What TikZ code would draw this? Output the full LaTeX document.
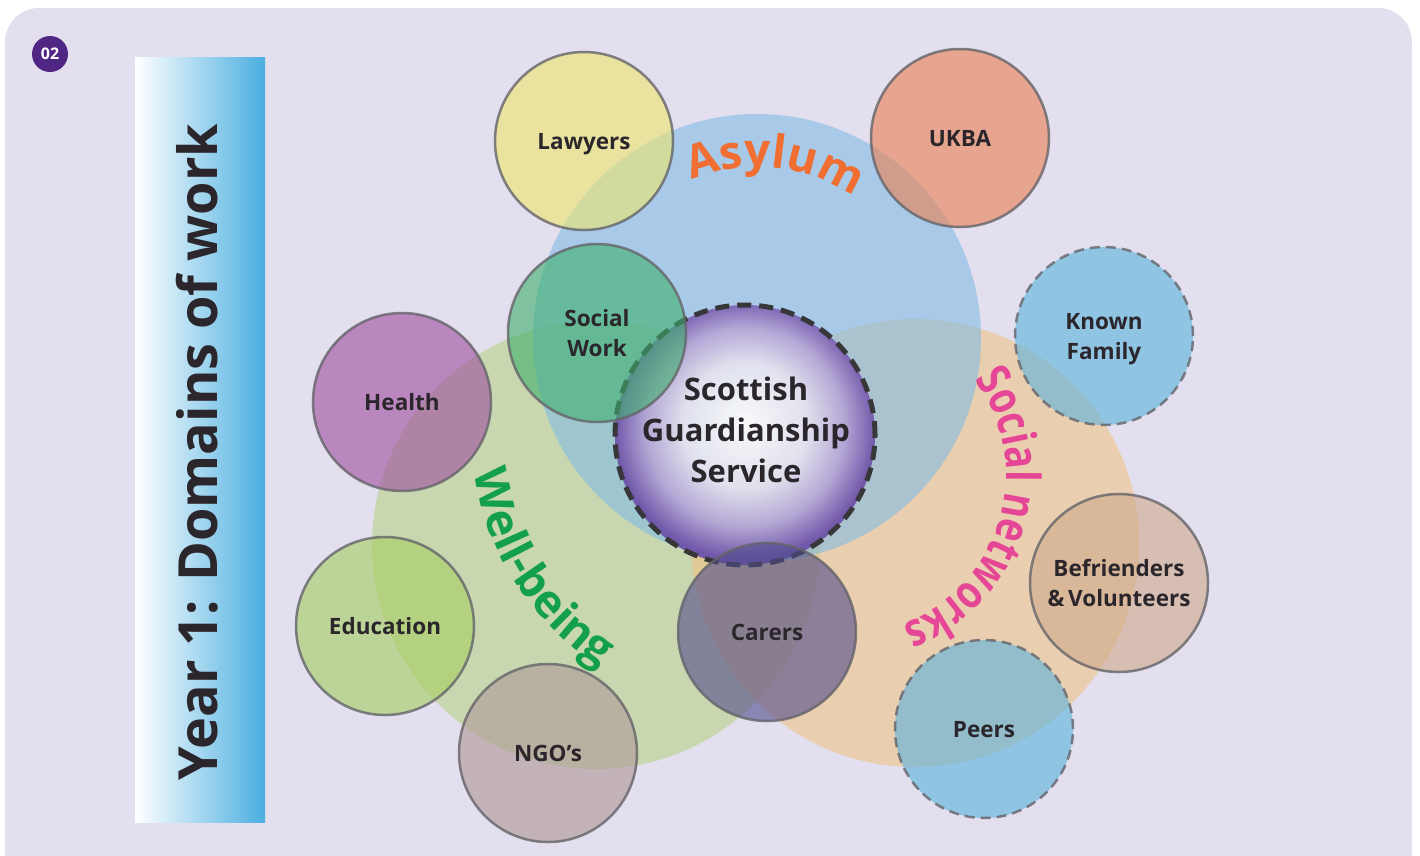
\documentclass[tikz,border=0pt]{standalone}
\usepackage{fontspec}
\setmainfont{Open Sans}
\newfontfamily\narrowsans{Open Sans}[FakeStretch=0.8]
\usetikzlibrary{decorations.text}

% palette
\definecolor{bgpanel}{RGB}{227,223,238}
\definecolor{titleblue}{RGB}{74,174,224}
\definecolor{badgepurple}{RGB}{80,38,132}
\definecolor{asylumC}{RGB}{129,188,228}
\definecolor{wellC}{RGB}{182,211,135}
\definecolor{socialC}{RGB}{240,196,135}
\definecolor{lawyersC}{RGB}{239,231,108}
\definecolor{ukbaC}{RGB}{235,126,80}
\definecolor{swC}{RGB}{62,176,108}
\definecolor{healthC}{RGB}{157,76,158}
\definecolor{eduC}{RGB}{165,205,95}
\definecolor{ngoC}{RGB}{174,151,150}
\definecolor{carersC}{RGB}{80,75,140}
\definecolor{familyC}{RGB}{90,178,221}
\definecolor{befC}{RGB}{207,168,138}
\definecolor{asylumtxt}{RGB}{240,110,50}
\definecolor{welltxt}{RGB}{20,160,75}
\definecolor{socialtxt}{RGB}{230,70,150}
\definecolor{labeltxt}{RGB}{43,38,43}
\definecolor{ringgray}{RGB}{100,100,105}
\definecolor{sgsring}{RGB}{55,55,58}
\definecolor{sgsmidA}{RGB}{230,227,240}
\definecolor{sgsmidB}{RGB}{182,166,214}
\definecolor{sgsedge}{RGB}{110,80,168}

% the path's bounding box is fitted to the inner 50bp square of the shading
\pgfdeclareradialshading{sgsball}{\pgfpoint{0bp}{2.5bp}}{%
  color(0bp)=(white); color(12bp)=(sgsmidA); color(19bp)=(sgsmidB);
  color(25bp)=(sgsedge); color(50bp)=(sgsedge)}

\newcommand\labelfont{\fontsize{22.5}{30}\selectfont\bfseries}
\newcommand\domainfont{\fontsize{46}{46}\selectfont\bfseries}
\newcommand\domainnarrow{\narrowsans\fontsize{47}{47}\selectfont\bfseries}

\tikzset{
  domaincircle/.style={circle, inner sep=0pt, minimum size=448pt, fill opacity=0.6},
  member/.style={circle, inner sep=0pt, minimum size=178pt, draw=ringgray,
    line width=2.5pt, draw opacity=0.8, fill opacity=0.6, text opacity=1,
    font=\labelfont, align=center, text=labeltxt, text depth=0pt},
  informal/.style={member, dash pattern=on 10pt off 6pt},
  arctext/.style={decorate, decoration={text along path, text align=center}},
}

\begin{document}
\begin{tikzpicture}[x=1pt,y=1pt]
\useasboundingbox (0,0) rectangle (1420,-855);
\clip (0,0) rectangle (1420,-855);
\fill[white] (0,0) rectangle (1420,-855);

% rounded panel
\fill[bgpanel, rounded corners=34pt] (5,-8) rectangle (1412,-900);

% title bar
\node[minimum width=130pt, minimum height=765pt, inner sep=0pt,
      left color=white, right color=titleblue] (titlebar) at (200,-439.5) {};
\node[rotate=90, anchor=base, text=labeltxt,
      font=\fontsize{54}{54}\selectfont\bfseries] (titletext) at (217,-452) {Year 1: Domains of work};

% page badge
\node[circle, fill=badgepurple, minimum size=36pt, inner sep=0pt, text=white,
      font=\fontsize{16}{16}\selectfont\bfseries] (badge) at (50,-54) {02};

% domain circles
\node[domaincircle, fill=wellC]   (wellbeing) at (596,-545) {};
\node[domaincircle, fill=socialC] (social)    at (915,-543) {};
\node[domaincircle, fill=asylumC] (asylum)    at (757,-338) {};

% central service
\node[circle, inner sep=0pt, minimum size=260pt, shading=sgsball, fill opacity=0.92,
      draw=sgsring, line width=5pt, dash pattern=on 14pt off 8pt] (sgs) at (745,-435) {};

% domain titles on arcs
\path[arctext, decoration={text color=asylumtxt, text={|\domainfont|Asylum}}]
  (asylum.center) ++(124:171) arc[start angle=124, end angle=44, radius=171];
\path[arctext, decoration={text color=welltxt, text={|\domainfont|Well-being}}]
  (sgs.center) ++(184:273) arc[start angle=184, end angle=242, radius=273];
\coordinate (socialarc) at (846,-475);
\path[arctext, decoration={text color=socialtxt, text={|\domainnarrow|Social networks}}]
  (socialarc) ++(38:160) arc[start angle=38, end angle=-71, radius=160];

% partners
\node[member, fill=lawyersC] (lawyers)   at (584,-141) {Lawyers};
\node[member, fill=ukbaC]    (ukba)      at (960,-138) {UKBA};
\node[member, fill=swC]      (socialwork) at (597,-333) {Social\\Work};
\node[member, fill=healthC]  (health)    at (402,-402) {Health};
\node[member, fill=eduC]     (education) at (385,-626) {Education};
\node[member, fill=ngoC]     (ngos)      at (548,-753) {NGO’s};
\node[member, fill=carersC]  (carers)    at (767,-632) {Carers};
\node[informal, fill=familyC] (family)   at (1104,-336) {Known\\Family};
\node[member, fill=befC]     (befrienders) at (1119,-583) {Befrienders\\\&\,Volunteers};
\node[informal, fill=familyC] (peers)    at (984,-729) {Peers};

% service title
\node[align=center, text=labeltxt, font=\fontsize{31}{41}\selectfont\bfseries]
  (sgslabel) at (746,-430) {Scottish\\Guardianship\\Service};
\end{tikzpicture}
\end{document}
